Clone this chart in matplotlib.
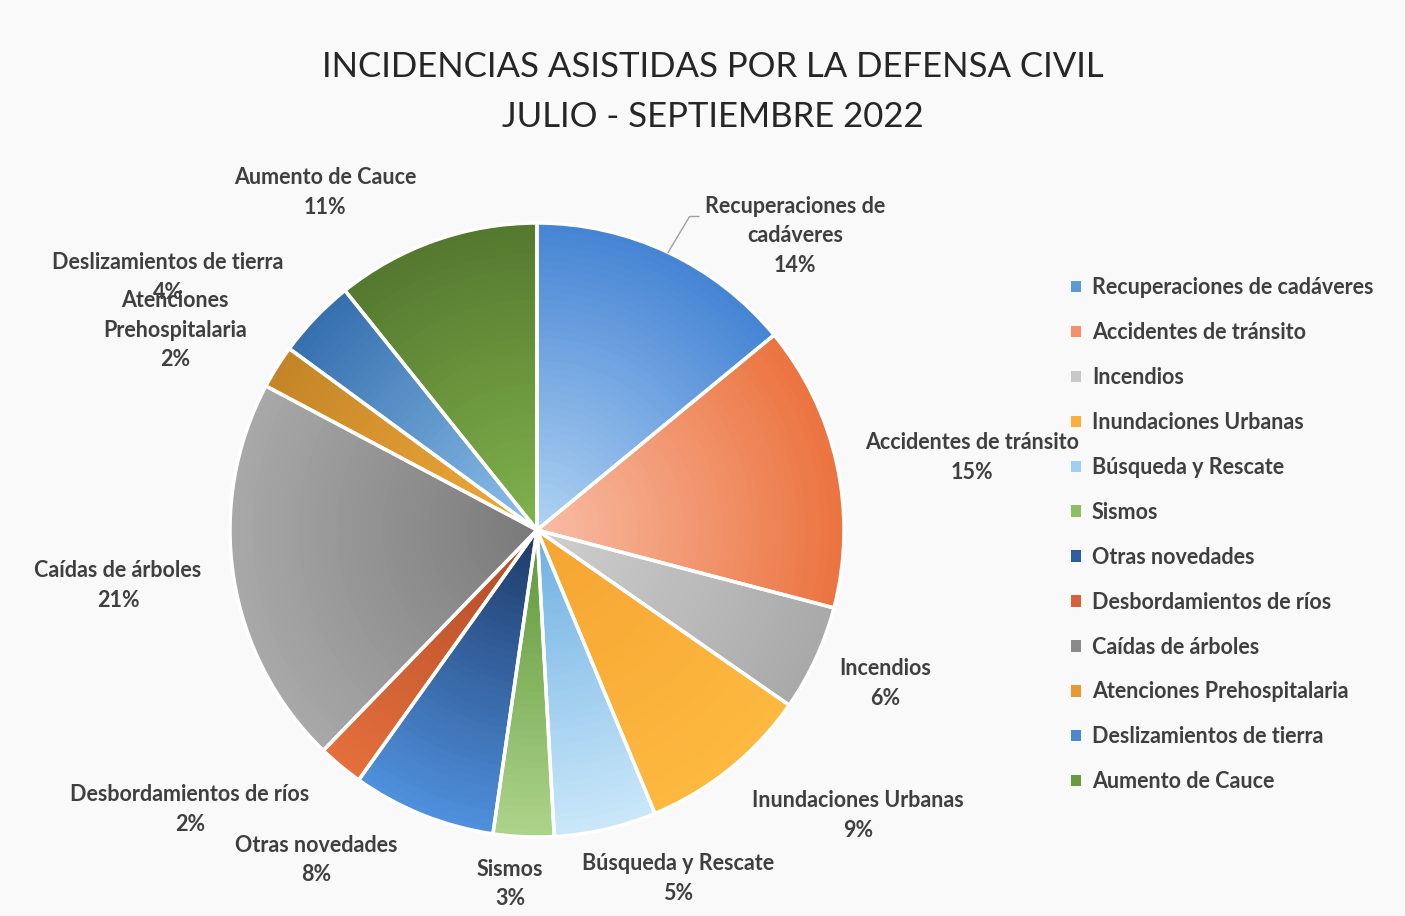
import matplotlib
matplotlib.use("Agg")
import matplotlib.pyplot as plt
import numpy as np
from matplotlib.colors import to_rgb
from matplotlib.patches import Patch

categories = [
    "Recuperaciones de cadáveres", "Accidentes de tránsito", "Incendios",
    "Inundaciones Urbanas", "Búsqueda y Rescate", "Sismos", "Otras novedades",
    "Desbordamientos de ríos", "Caídas de árboles", "Atenciones Prehospitalaria",
    "Deslizamientos de tierra", "Aumento de Cauce",
]
values = [14.1, 15.1, 5.6, 9.1, 5.4, 3.2, 7.6, 2.4, 20.6, 2.3, 4.2, 10.8]

# label text as it is wrapped on the chart
label_text = [
    "Recuperaciones de\ncadáveres", "Accidentes de tránsito", "Incendios",
    "Inundaciones Urbanas", "Búsqueda y Rescate", "Sismos", "Otras novedades",
    "Desbordamientos de ríos", "Caídas de árboles", "Atenciones\nPrehospitalaria",
    "Deslizamientos de tierra", "Aumento de Cauce",
]
# label centres, in pie units (centre 0,0, radius 1)
label_pos = [
    (0.84, 0.958), (1.417, 0.235), (1.134, -0.50), (1.046, -0.93), (0.459, -1.135),
    (-0.088, -1.153), (-0.72, -1.075), (-1.13, -0.91), (-1.365, -0.181),
    (-1.179, 0.651), (-1.202, 0.822), (-0.691, 1.099),
]

# (inner, outer) colours for the radial gradient
grad = [
    ("#aed2f2", "#4684d4"), ("#f8bca4", "#ec7440"), ("#cfcfcf", "#a9a9a9"),
    ("#f6a532", "#fdb840"), ("#6fb0e2", "#c9e7f9"), ("#5f9638", "#acd38a"),
    ("#1d3a68", "#4f8fdc"), ("#b04a26", "#e46f3c"), ("#7a7a7a", "#a8a8a8"),
    ("#f2aa3a", "#c48528"), ("#8cc0ea", "#3670ae"), ("#80b24c", "#55792f"),
]
legend_colors = ["#5b9bd5", "#f4916a", "#c8c8c8", "#fbae3c", "#9fd0f2", "#8cbf62",
                 "#2f5e9e", "#d5603a", "#8a8a8a", "#e69a32", "#4a8acb", "#6a9a3e"]

plt.rcParams["font.family"] = ["Lato", "DejaVu Sans"]
W, H = 1405, 916
fig = plt.figure(figsize=(W / 100, H / 100), dpi=100)
fig.patch.set_facecolor("#f9f9f9")

cx, cy, R = 537, 530, 307
ax = fig.add_axes([(cx - R) / W, (H - cy - R) / H, 2 * R / W, 2 * R / H])

# radial gradient: stack of shrinking pies, colours blended outer -> inner
n_layers = 40
for k in range(n_layers):
    t = k / (n_layers - 1)
    r = 1.0 - 0.97 * t
    cols = [tuple(np.array(to_rgb(o)) * (1 - t) + np.array(to_rgb(i)) * t) for i, o in grad]
    ax.pie(values, radius=r, colors=cols, startangle=90, counterclock=False,
           wedgeprops=dict(edgecolor="none", linewidth=0))
wedges, _ = ax.pie(values, radius=1.0, colors=["none"] * len(values), startangle=90,
                   counterclock=False, wedgeprops=dict(edgecolor="white", linewidth=2.5))
ax.set_xlim(-1, 1)
ax.set_ylim(-1, 1)
ax.set_aspect("equal")
ax.axis("off")

total = sum(values)
txt_col = "#3f3f3f"
fs = 15.5
for i, w in enumerate(wedges):
    pct = round(values[i] / total * 100)
    x, y = label_pos[i]
    ax.text(x, y, f"{label_text[i]}\n{pct}%", ha="center", va="center",
            fontsize=fs, fontweight="bold", color=txt_col, linespacing=1.52,
            clip_on=False)

# leader line for the first label
th = np.deg2rad((wedges[0].theta1 + wedges[0].theta2) / 2)
ex, ey = np.cos(th), np.sin(th)
ax.plot([ex, ex + 0.07, ex + 0.10], [ey, ey + 0.117, ey + 0.117], color="#a0a0a0",
        lw=1, clip_on=False)

fig.text(0.507, 0.927, "INCIDENCIAS ASISTIDAS POR LA DEFENSA CIVIL", ha="center",
         va="center", fontsize=25, color="#262626")
fig.text(0.507, 0.872, "JULIO - SEPTIEMBRE 2022", ha="center", va="center",
         fontsize=25, color="#262626")

handles = [Patch(facecolor=c, edgecolor="none") for c in legend_colors]
leg = fig.legend(handles, categories, loc="upper left", bbox_to_anchor=(1052 / W, 1 - 258 / H),
                 frameon=False, handlelength=0.45, handleheight=0.45, handletextpad=0.5,
                 labelspacing=1.11, prop=dict(size=fs, weight="bold"))
for t in leg.get_texts():
    t.set_color(txt_col)

fig.savefig("out.png", dpi=100, facecolor=fig.get_facecolor())
